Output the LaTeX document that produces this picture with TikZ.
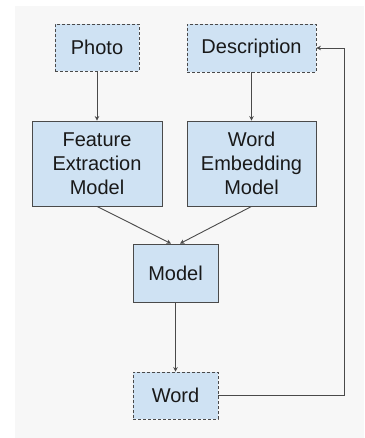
\documentclass[tikz,border=0pt]{standalone}
\usepackage{fontspec}
\setmainfont{Liberation Sans}
\usetikzlibrary{arrows.meta}

\definecolor{boxfill}{HTML}{CFE2F3}
\definecolor{boxline}{HTML}{4A4A4A}
\definecolor{panel}{HTML}{F7F7F7}

\tikzset{
  block/.style={draw=boxline,fill=boxfill,line width=0.9pt,align=center,
    font=\fontsize{20}{24}\selectfont,text=black!90,inner sep=0pt},
  datablock/.style={block,dash pattern=on 3pt off 2pt},
  flow/.style={draw=boxline,line width=0.9pt,-{Stealth[length=4.5pt,width=4.5pt]}}
}

\begin{document}
\begin{tikzpicture}[x=1pt,y=-1pt]
\useasboundingbox (0,0) rectangle (364,438);
\fill[panel] (15,6) rectangle (364,438);

\node[datablock,minimum width=84pt,minimum height=47pt] (photo) at (97,47.5) {Photo};
\node[datablock,minimum width=129pt,minimum height=48pt] (desc) at (251.5,48) {Description};
\node[block,minimum width=130pt,minimum height=85pt] (feat) at (97,163.5) {Feature\\Extraction\\Model};
\node[block,minimum width=129pt,minimum height=85pt] (embed) at (251.5,163.5) {Word\\Embedding\\Model};
\node[block,minimum width=85pt,minimum height=58pt] (model) at (175.5,273) {Model};
\node[datablock,minimum width=85pt,minimum height=47pt] (word) at (175.5,395.5) {Word};
\coordinate (loop) at (344,395.5);

\draw[flow] (photo) -- (feat);
\draw[flow] (desc) -- (embed);
\draw[flow] (feat.south) -- ([xshift=-4.5pt]model.north);
\draw[flow] (embed.south) -- ([xshift=4.5pt]model.north);
\draw[flow] (model) -- (word);
\draw[flow] (word.east) -- (loop) |- (desc.east);
\end{tikzpicture}
\end{document}
